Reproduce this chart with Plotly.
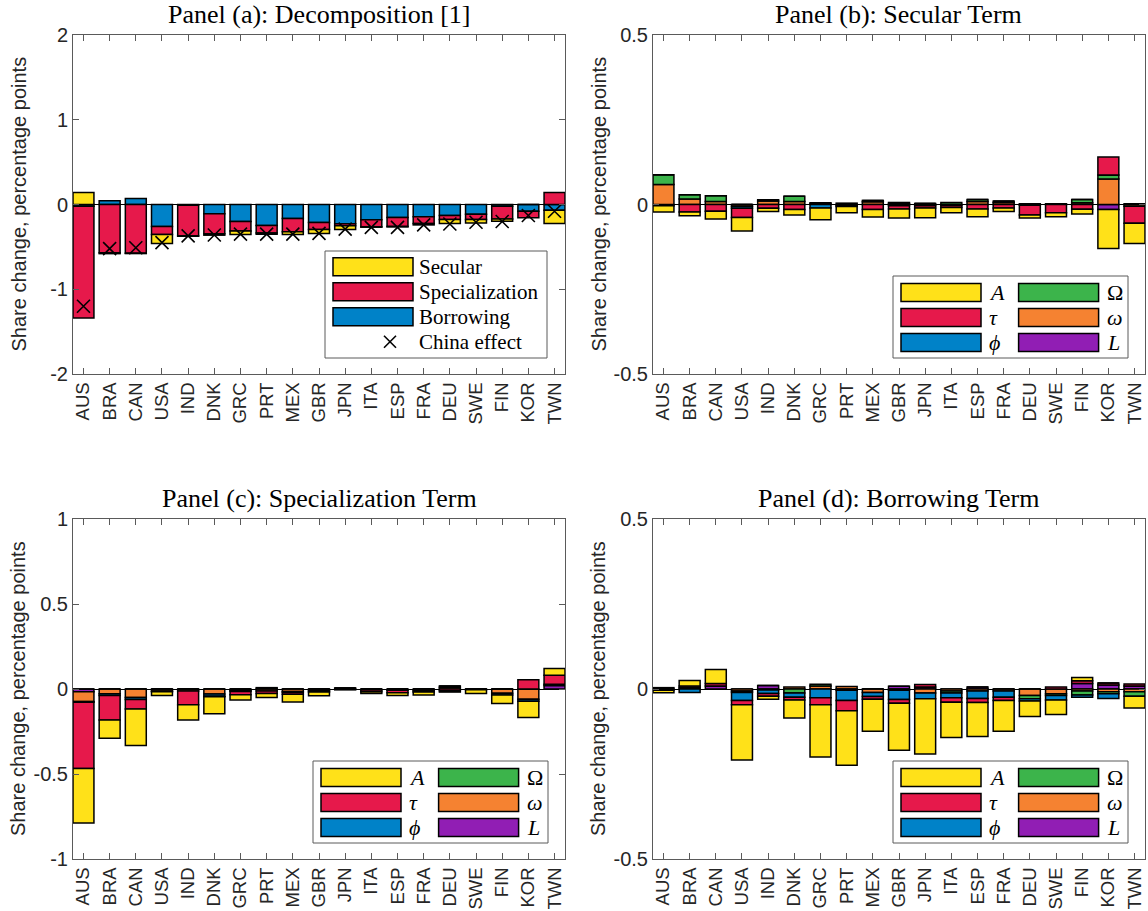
import plotly.graph_objects as go

# ---------------------------------------------------------------- data
countries = ["AUS", "BRA", "CAN", "USA", "IND", "DNK", "GRC", "PRT", "MEX", "GBR",
             "JPN", "ITA", "ESP", "FRA", "DEU", "SWE", "FIN", "KOR", "TWN"]

# Panel (a): decomposition of the share change
secular = [0.142, -0.01, -0.005, -0.106, -0.005, -0.016, -0.04, -0.016, -0.031, -0.047,
           -0.043, -0.005, -0.005, -0.016, -0.047, -0.04, -0.028, 0.0, -0.157]
specialization = [-1.32, -0.57, -0.574, -0.094, -0.362, -0.236, -0.114, -0.087, -0.157, -0.083,
                  -0.024, -0.083, -0.106, -0.079, -0.047, -0.063, -0.15, -0.075, 0.142]
borrowing = [-0.02, 0.045, 0.07, -0.26, -0.008, -0.11, -0.2, -0.248, -0.165, -0.212,
             -0.228, -0.18, -0.153, -0.146, -0.13, -0.114, -0.02, -0.08, -0.067]
china_effect = [-1.2, -0.52, -0.51, -0.45, -0.37, -0.36, -0.35, -0.35, -0.35, -0.34,
                -0.29, -0.27, -0.27, -0.24, -0.23, -0.21, -0.2, -0.13, -0.08]

# Panel (b): secular term by component
secular_A = [-0.018, -0.011, -0.023, -0.04, -0.01, -0.016, -0.035, -0.018, -0.022, -0.027,
             -0.029, -0.015, -0.023, -0.011, -0.009, -0.012, -0.014, -0.115, -0.06]
secular_tau = [0.0, -0.022, -0.02, -0.027, -0.011, -0.015, 0.0, -0.003, -0.015, -0.009,
               -0.006, -0.006, -0.013, -0.01, -0.029, -0.024, -0.014, 0.053, -0.05]
secular_phi = [0.0, 0.0, 0.0, -0.006, 0.0, 0.0, -0.01, -0.003, 0.0, -0.004,
               -0.004, -0.003, 0.0, 0.0, 0.0, 0.0, 0.0, 0.0, 0.0]
secular_Omega = [0.029, 0.013, 0.017, 0.0, 0.004, 0.015, 0.002, 0.004, 0.004, 0.003,
                 0.0, 0.006, 0.006, 0.004, 0.0, 0.0, 0.01, 0.012, 0.0]
secular_omega = [0.059, 0.016, 0.009, -0.005, 0.01, 0.009, 0.003, 0.0, 0.008, 0.003,
                 0.0, 0.0, 0.009, 0.006, 0.002, 0.002, 0.005, 0.075, -0.005]
secular_L = [-0.004, 0.0, 0.0, 0.0, 0.0, 0.0, 0.0, 0.0, 0.0, 0.0,
             0.003, 0.0, 0.0, 0.0, -0.002, 0.0, 0.0, -0.015, 0.002]

# Panel (c): specialization term by component
spec_A = [-0.32, -0.108, -0.215, -0.022, -0.09, -0.1, -0.03, -0.024, -0.045, -0.022,
          0.0, -0.01, -0.016, -0.018, -0.008, -0.022, -0.05, -0.095, 0.04]
spec_tau = [-0.39, -0.144, -0.055, -0.004, -0.08, -0.004, -0.02, -0.014, -0.012, -0.008,
            -0.005, -0.01, -0.014, -0.008, -0.01, 0.0, 0.0, 0.055, 0.053]
spec_phi = [-0.004, -0.01, -0.012, 0.0, 0.0, -0.012, -0.006, 0.0, -0.004, 0.0,
            0.0, 0.0, 0.0, 0.0, 0.0, 0.0, -0.01, -0.012, 0.0]
spec_Omega = [0.0, 0.0, 0.0, 0.0, 0.0, 0.0, 0.0, 0.008, 0.0, 0.0,
              0.006, 0.0, 0.0, 0.0, 0.008, 0.0, 0.0, 0.0, 0.0]
spec_omega = [-0.058, -0.028, -0.05, -0.012, -0.012, -0.03, -0.008, -0.012, -0.015, -0.01,
              0.0, -0.006, -0.008, -0.01, 0.01, -0.004, -0.025, -0.06, 0.008]
spec_L = [-0.016, 0.0, 0.0, 0.0, 0.0, 0.0, 0.0, 0.0, 0.0, 0.0,
          0.0, 0.0, 0.0, 0.0, 0.0, 0.0, 0.0, 0.0, 0.02]

# Panel (d): borrowing term by component
borr_A = [-0.007, 0.016, 0.041, -0.163, -0.009, -0.053, -0.154, -0.16, -0.094, -0.138,
          -0.162, -0.104, -0.1, -0.09, -0.046, -0.043, 0.01, 0.0, -0.035]
borr_tau = [0.0, 0.005, 0.007, -0.012, -0.008, -0.008, -0.02, -0.03, -0.008, -0.011,
            0.007, -0.013, -0.012, -0.01, 0.0, 0.006, 0.008, 0.006, 0.006]
borr_phi = [-0.004, -0.01, 0.0, -0.024, -0.01, -0.012, -0.026, -0.03, -0.012, -0.027,
            -0.017, -0.014, -0.022, -0.018, -0.006, -0.013, -0.006, -0.014, 0.0]
borr_Omega = [0.004, 0.004, 0.0, -0.004, 0.0, -0.012, 0.005, -0.004, 0.0, 0.0,
              0.0, -0.006, 0.0, 0.0, -0.01, -0.005, -0.012, -0.006, -0.013]
borr_omega = [0.0, 0.0, 0.0, -0.006, -0.003, 0.006, 0.009, 0.007, -0.01, -0.004,
              -0.012, -0.006, -0.006, -0.006, -0.019, -0.014, -0.006, -0.008, -0.008]
borr_L = [0.0, 0.0, 0.009, 0.0, 0.01, 0.0, 0.0, 0.0, 0.0, 0.008,
          0.006, 0.0, 0.006, 0.0, 0.0, 0.0, 0.016, 0.012, 0.009]

# axis ticks
ticks_a = [-2, -1, 0, 1, 2]
ticklabels_a = ["-2", "-1", "0", "1", "2"]
ticks_half = [-0.5, 0, 0.5]
ticklabels_half = ["-0.5", "0", "0.5"]
ticks_c = [-1, -0.5, 0, 0.5, 1]
ticklabels_c = ["-1", "-0.5", "0", "0.5", "1"]

# ---------------------------------------------------------------- style
W, H = 1148, 911
YELLOW, RED, BLUE = "#ffe119", "#e6194b", "#0082c8"
GREEN, ORANGE, PURPLE = "#3cb44b", "#f58231", "#911eb4"
AXIS_COLOR = "#5a5a5a"
TEXT_COLOR = "#262626"
SANS = "Liberation Sans, Arial, sans-serif"
SERIF = "Liberation Serif, Times New Roman, serif"

# axes rectangles in pixels: left, right, top, bottom
boxes = {
    "a": (73, 565, 35, 374),
    "b": (653, 1145, 35, 374),
    "c": (73, 565, 519, 859),
    "d": (653, 1145, 519, 859),
}
axis_ids = {"a": ("x", "y"), "b": ("x2", "y2"), "c": ("x3", "y3"), "d": ("x4", "y4")}


def px(x):
    return x / W


def py(y):
    return 1 - y / H


fig = go.Figure()


def add_bar(panel, values, color):
    xa, ya = axis_ids[panel]
    fig.add_trace(go.Bar(
        x=countries, y=values, width=0.8,
        marker=dict(color=color, line=dict(color="black", width=1.5)),
        xaxis=xa, yaxis=ya, showlegend=False, hoverinfo="x+y",
    ))


# stacks grow outward from zero in this order
add_bar("a", borrowing, BLUE)
add_bar("a", specialization, RED)
add_bar("a", secular, YELLOW)
fig.add_trace(go.Scatter(
    x=countries, y=china_effect, mode="markers",
    marker=dict(symbol="x-thin", size=13, color="black", line=dict(color="black", width=1.6)),
    xaxis="x", yaxis="y", showlegend=False,
))

for panel, comps in (
    ("b", (secular_L, secular_omega, secular_Omega, secular_phi, secular_tau, secular_A)),
    ("c", (spec_L, spec_omega, spec_Omega, spec_phi, spec_tau, spec_A)),
    ("d", (borr_L, borr_omega, borr_Omega, borr_phi, borr_tau, borr_A)),
):
    for vals, col in zip(comps, (PURPLE, ORANGE, GREEN, BLUE, RED, YELLOW)):
        add_bar(panel, vals, col)

# ---------------------------------------------------------------- axes
layout_axes = {}
yspec = {
    "a": ([-2, 2], ticks_a, ticklabels_a),
    "b": ([-0.5, 0.5], ticks_half, ticklabels_half),
    "c": ([-1, 1], ticks_c, ticklabels_c),
    "d": ([-0.5, 0.5], ticks_half, ticklabels_half),
}
for panel, (l, r, t, b) in boxes.items():
    xa, ya = axis_ids[panel]
    xkey = "xaxis" if xa == "x" else "xaxis" + xa[1:]
    ykey = "yaxis" if ya == "y" else "yaxis" + ya[1:]
    rng, tv, tt = yspec[panel]
    layout_axes[xkey] = dict(
        domain=[px(l), px(r)], anchor=ya, type="category", automargin=False,
        range=[-0.4, len(countries) - 0.6],
        showline=True, linecolor=AXIS_COLOR, linewidth=1, mirror="ticks",
        ticks="inside", ticklen=6, tickcolor=AXIS_COLOR, tickwidth=1,
        tickangle=-90, tickfont=dict(family=SANS, size=18.5, color=TEXT_COLOR),
        showgrid=False, zeroline=False,
    )
    layout_axes[ykey] = dict(
        domain=[py(b), py(t)], anchor=xa, range=rng, automargin=False,
        tickvals=tv, ticktext=tt,
        showline=True, linecolor=AXIS_COLOR, linewidth=1, mirror="ticks",
        ticks="inside", ticklen=6, tickcolor=AXIS_COLOR, tickwidth=1,
        tickfont=dict(family=SANS, size=20, color=TEXT_COLOR),
        showgrid=False, zeroline=True, zerolinecolor="black", zerolinewidth=1,
    )

# ---------------------------------------------------------------- text
annotations = []
shapes = []

titles = {
    "a": "Panel (a): Decomposition [1]",
    "b": "Panel (b): Secular Term",
    "c": "Panel (c): Specialization Term",
    "d": "Panel (d): Borrowing Term",
}
for panel, (l, r, t, b) in boxes.items():
    annotations.append(dict(
        text=titles[panel], x=px((l + r) / 2), y=py(t - 20), xref="paper", yref="paper",
        xanchor="center", yanchor="middle", showarrow=False,
        font=dict(family=SERIF, size=26, color="black"),
    ))
    annotations.append(dict(
        text="Share change, percentage points", x=px(l - 55), y=py((t + b) / 2),
        xref="paper", yref="paper", xanchor="center", yanchor="middle",
        textangle=-90, showarrow=False,
        font=dict(family=SANS, size=20, color=TEXT_COLOR),
    ))


def rect(x0, x1, y0, y1, fill, line_color, line_width):
    shapes.append(dict(
        type="rect", xref="paper", yref="paper",
        x0=px(x0), x1=px(x1), y0=py(y1), y1=py(y0),
        fillcolor=fill, line=dict(color=line_color, width=line_width), layer="above",
    ))


def label(text, x, y, size=21):
    annotations.append(dict(
        text=text, x=px(x), y=py(y), xref="paper", yref="paper",
        xanchor="left", yanchor="middle", showarrow=False,
        font=dict(family=SERIF, size=size, color="black"),
    ))


# legend of panel (a)
rect(325, 547, 251, 358, "white", AXIS_COLOR, 1)
for i, (name, col) in enumerate((("Secular", YELLOW), ("Specialization", RED), ("Borrowing", BLUE))):
    cy = 266.7 + 25 * i
    rect(333, 413, cy - 9, cy + 9, col, "black", 1.5)
    label(name, 417, cy)
cx, cy, hs = 390, 341.7, 6
for dx in (-1, 1):
    shapes.append(dict(
        type="line", xref="paper", yref="paper",
        x0=px(cx - hs * dx), x1=px(cx + hs * dx), y0=py(cy - hs), y1=py(cy + hs),
        line=dict(color="black", width=1.6), layer="above",
    ))
label("China effect", 417, cy)

# component legends of panels (b)-(d)
comp_legend = (
    ("<i>A</i>", YELLOW, 0, 0), ("<i>τ</i>", RED, 0, 1), ("<i>ϕ</i>", BLUE, 0, 2),
    ("Ω", GREEN, 1, 0), ("<i>ω</i>", ORANGE, 1, 1), ("<i>L</i>", PURPLE, 1, 2),
)
for panel in ("b", "c", "d"):
    l, r, t, b = boxes[panel]
    left, right = r - 252, r - 17
    top, bottom = b - 98, b - 16
    rect(left, right, top, bottom, "white", AXIS_COLOR, 1)
    for name, col, c, row in comp_legend:
        cy = top + 16.5 + 25 * row
        sx = left + 8 + 117.6 * c
        rect(sx, sx + 80, cy - 9, cy + 9, col, "black", 1.5)
        label(name, sx + 86, cy, size=22)

fig.update_layout(
    width=W, height=H, autosize=False,
    margin=dict(l=0, r=0, t=0, b=0, pad=0, autoexpand=False),
    paper_bgcolor="white", plot_bgcolor="white",
    barmode="relative", bargap=0.2,
    showlegend=False,
    annotations=annotations, shapes=shapes,
    **layout_axes,
)

fig.write_html("out.html")
